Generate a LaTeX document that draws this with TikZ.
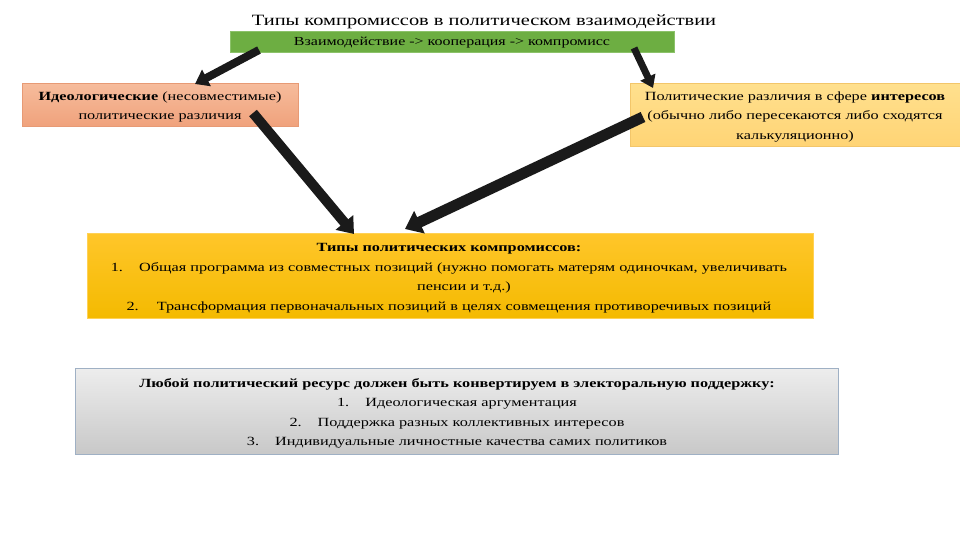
\documentclass[tikz,border=0pt]{standalone}
\usepackage{fontspec}
\setmainfont[FakeStretch=1.3]{Liberation Serif}
\usetikzlibrary{arrows.meta}
\definecolor{grn}{HTML}{6DAE42}
\definecolor{grnB}{HTML}{8CC26A}
\definecolor{salT}{HTML}{F6BC9C}
\definecolor{salB}{HTML}{F0A27C}
\definecolor{salD}{HTML}{E79A75}
\definecolor{ylT}{HTML}{FFE08E}
\definecolor{ylB}{HTML}{FFD475}
\definecolor{ylD}{HTML}{F3C66A}
\definecolor{gdT}{HTML}{FFC62A}
\definecolor{gdB}{HTML}{F4BA00}
\definecolor{gyT}{HTML}{EDEDED}
\definecolor{gyB}{HTML}{C8C8C8}
\definecolor{gyD}{HTML}{9FB0C4}
\definecolor{arr}{HTML}{1A1A1A}
\tikzset{
  box/.style={draw, line width=0.8pt, inner sep=0pt, anchor=north west},
  txt/.style={font=\fontsize{12.5}{19.5}\selectfont, align=center, inner sep=0pt},
  bigarrow/.style={draw=arr, line width=8pt, -{Triangle[width=18pt,length=13pt]}, arr},
}
\begin{document}
\begin{tikzpicture}[x=1pt,y=-1pt]
\useasboundingbox (0,0) rectangle (960,540);
\fill[white] (0,0) rectangle (960,540);
% title
\node[font=\fontsize{15.7}{18}\selectfont, inner sep=0pt] (title) at (484,22) {Типы компромиссов в политическом взаимодействии};
% boxes
\node[box, draw=grnB, fill=grn, minimum width=444pt, minimum height=21pt] (green) at (230,31) {};
\node[txt, font=\fontsize{12.3}{14}\selectfont] (greent) at (452,43) {Взаимодействие -> кооперация -> компромисс};
\node[box, draw=salD, top color=salT, bottom color=salB, minimum width=276pt, minimum height=43pt] (ideo) at (22,83) {};
\node[txt] (ideot) at (160,107) {\textbf{Идеологические} (несовместимые)\\политические различия};
\node[box, draw=ylD, top color=ylT, bottom color=ylB, minimum width=332pt, minimum height=63pt] (inter) at (630,83) {};
\node[txt] (intert) at (795,117) {Политические различия в сфере \textbf{интересов}\\(обычно либо пересекаются либо сходятся\\калькуляционно)};
\node[box, draw=gdT!80!white, top color=gdT, bottom color=gdB, minimum width=726pt, minimum height=85pt] (gold) at (87,233) {};
\node[txt] (goldt) at (449,278) {\textbf{Типы политических компромиссов:}\\1.\hspace{16pt}Общая программа из совместных позиций (нужно помогать матерям одиночкам, увеличивать\\\hspace{30pt}пенсии и т.д.)\\2.\hspace{18pt}Трансформация первоначальных позиций в целях совмещения противоречивых позиций};
\node[box, draw=gyD, top color=gyT, bottom color=gyB, minimum width=763pt, minimum height=86pt] (gray) at (75,368) {};
\node[txt] (grayt) at (457,413.5) {\textbf{Любой политический ресурс должен быть конвертируем в электоральную поддержку:}\\1.\hspace{16pt}Идеологическая аргументация\\2.\hspace{16pt}Поддержка разных коллективных интересов\\3.\hspace{16pt}Индивидуальные личностные качества самих политиков};
% arrow endpoints
\coordinate (a1s) at (259,50);
\coordinate (a1e) at (195,84);
\coordinate (a2s) at (634,48);
\coordinate (a2e) at (653,88);
\coordinate (a3s) at (253,113);
\coordinate (a3e) at (354,234);
\coordinate (a4s) at (643,117);
\coordinate (a4e) at (405,229);
\draw[bigarrow] (a1s) -- (a1e);
\draw[bigarrow, line width=7pt, -{Triangle[width=16pt,length=12pt]}] (a2s) -- (a2e);
\draw[bigarrow, line width=10pt, -{Triangle[width=22pt,length=15pt]}] (a3s) -- (a3e);
\draw[bigarrow, line width=11pt, -{Triangle[width=24pt,length=16pt]}] (a4s) -- (a4e);
\end{tikzpicture}
\end{document}
